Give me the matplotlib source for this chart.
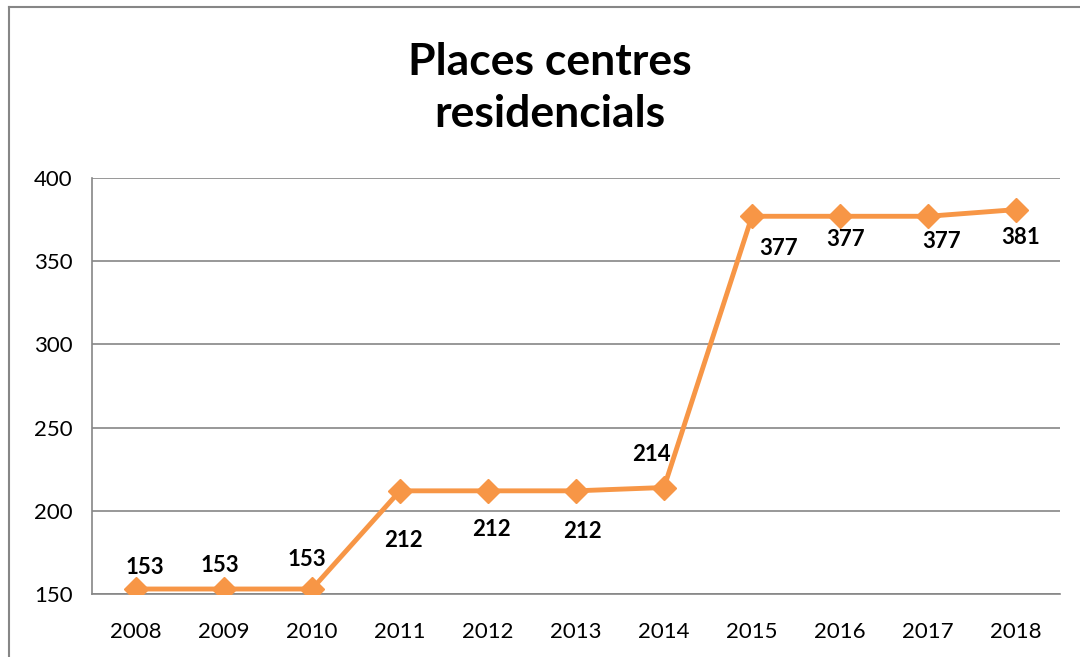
import matplotlib.pyplot as plt
from matplotlib.lines import Line2D

years = ['2008', '2009', '2010', '2011', '2012', '2013', '2014', '2015', '2016', '2017', '2018']
places = [153, 153, 153, 212, 212, 212, 214, 377, 377, 377, 381]
# label offsets in pixels (dx, dy) from each marker
label_offsets = [(9, 22), (-4, 24), (-5, 30), (3, -50), (3, -39), (6, -41),
                 (-13, 33), (27, -32), (6, -23), (14, -25), (5, -28)]

plt.rcParams['font.family'] = ['Lato', 'DejaVu Sans']

fig = plt.figure(figsize=(10.8, 6.57), dpi=100)
ax = fig.add_axes([92/1080, 1 - 594/657, 968/1080, (594 - 178)/657])

orange = '#F79646'
grey = '#868686'
x = range(len(years))
ax.plot(x, places, color=orange, lw=3.5, marker='D', markersize=12, zorder=3)

for i, v in enumerate(places):
    dx, dy = label_offsets[i]
    ax.annotate(str(v), (i, v), xytext=(dx, dy), textcoords='offset pixels',
                ha='center', va='center', fontsize=16, fontweight='bold', color='black')

ax.set_xlim(-0.5, len(years) - 0.5)
ax.set_ylim(150, 400)
ax.set_yticks(range(150, 401, 50))
ax.set_xticks(list(x))
ax.set_xticklabels(years)
ax.tick_params(axis='both', length=0, labelsize=16, colors='black')
ax.tick_params(axis='y', pad=14)
ax.tick_params(axis='x', pad=20)
ax.yaxis.grid(True, color=grey, lw=1.2)
ax.set_axisbelow(True)
for s in ['top', 'right']:
    ax.spines[s].set_visible(False)
for s in ['left', 'bottom']:
    ax.spines[s].set_color(grey)
    ax.spines[s].set_linewidth(1.2)

fig.text(550/1080, 1 - 88/657, 'Places centres\nresidencials', ha='center', va='center',
         fontsize=32, fontweight='bold', linespacing=1.38)

# outer chart border (cropped on right and bottom)
fig.add_artist(Line2D([9/1080, 9/1080], [0, 1 - 7/657], color=grey, lw=1.5, transform=fig.transFigure))
fig.add_artist(Line2D([9/1080, 1], [1 - 7/657, 1 - 7/657], color=grey, lw=1.5, transform=fig.transFigure))

fig.savefig('out.png', dpi=100, facecolor='white')
